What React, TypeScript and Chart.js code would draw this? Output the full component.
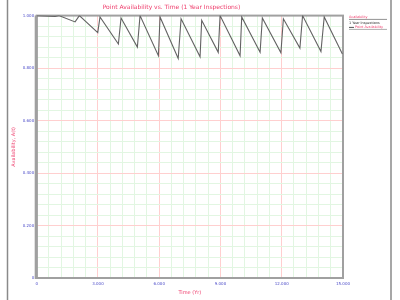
import React, { useEffect, useRef } from "react";
import { Chart, registerables } from "chart.js";
Chart.register(...registerables);

// Point availability readings (time in years, availability A(t))
const timeYears = [
  0, 0.9, 1.08, 1.88, 2.09, 2.99, 3.1, 4.0, 4.13, 4.93, 5.06, 5.96, 6.04, 6.93, 7.07,
  8.0, 8.08, 8.89, 8.98, 9.96, 10.04, 10.94, 11.05, 11.96, 12.08, 12.89, 13.02, 13.92,
  14.08, 14.97,
];
const availability = [
  1.0, 0.997, 1.0, 0.976, 1.0, 0.935, 0.995, 0.892, 0.991, 0.88, 1.0, 0.847, 0.995, 0.837,
  0.988, 0.843, 0.982, 0.86, 1.0, 0.847, 0.995, 0.86, 0.991, 0.858, 0.988, 0.876, 1.0,
  0.863, 0.995, 0.854,
];
const xMajorTicks = [0, 3, 6, 9, 12, 15];
const yMajorTicks = [0, 0.2, 0.4, 0.6, 0.8, 1.0];

const titleText = "Point Availability vs. Time (1 Year Inspections)";
const xTitle = "Time (Yr)";
const yTitle = "Availability, A(t)";
const legendHeader = "Availability";
const legendGroup = "1 Year Inspections";
const seriesLabel = "Point Availability";

const RED = "#ee3b6a";
const BLUE = "#4a4ac8";
const FONT = "'DejaVu Sans', Verdana, sans-serif";

const isMajor = (v: number, list: number[]) => list.some((m) => Math.abs(m - v) < 1e-6);

export default function App() {
  const ref = useRef<HTMLCanvasElement | null>(null);
  useEffect(() => {
    document.body.style.margin = "0";
    const canvas = ref.current;
    if (!canvas) return;

    const decor = {
      id: "decor",
      beforeDraw(chart: any) {
        const ctx = chart.ctx;
        ctx.save();
        ctx.fillStyle = "#ffffff";
        ctx.fillRect(0, 0, chart.width, chart.height);
        ctx.strokeStyle = "#8a8a8a";
        ctx.lineWidth = 1.5;
        ctx.beginPath();
        ctx.moveTo(7.5, 0);
        ctx.lineTo(7.5, chart.height);
        ctx.moveTo(391, 0);
        ctx.lineTo(391, chart.height);
        ctx.stroke();
        ctx.restore();
      },
      beforeDatasetsDraw(chart: any) {
        const { left, right, top, bottom } = chart.chartArea;
        const ctx = chart.ctx;
        ctx.save();
        ctx.strokeStyle = "#a0a0a0";
        ctx.lineWidth = 2;
        ctx.strokeRect(left, top, right - left, bottom - top);
        ctx.lineWidth = 3;
        ctx.beginPath();
        ctx.moveTo(left - 0.5, top);
        ctx.lineTo(left - 0.5, bottom + 1);
        ctx.stroke();
        ctx.restore();
      },
      afterDraw(chart: any) {
        const ctx = chart.ctx;
        const { right, top } = chart.chartArea;
        const x0 = right + 6;
        ctx.save();
        ctx.textBaseline = "middle";
        ctx.font = `3.4px ${FONT}`;
        ctx.fillStyle = RED;
        ctx.fillText(legendHeader, x0, top + 1.8);
        ctx.strokeStyle = "#777";
        ctx.lineWidth = 0.8;
        ctx.beginPath();
        ctx.moveTo(x0, top + 3.8);
        ctx.lineTo(x0 + 38, top + 3.8);
        ctx.stroke();
        ctx.fillStyle = "#222";
        ctx.fillText(legendGroup, x0, top + 7.8);
        ctx.strokeStyle = "#555";
        ctx.lineWidth = 1;
        ctx.beginPath();
        ctx.moveTo(x0, top + 11.8);
        ctx.lineTo(x0 + 5, top + 11.8);
        ctx.stroke();
        ctx.fillStyle = RED;
        ctx.fillText(seriesLabel, x0 + 6, top + 11.8);
        ctx.strokeStyle = "#999";
        ctx.lineWidth = 0.8;
        ctx.beginPath();
        ctx.moveTo(x0, top + 13.8);
        ctx.lineTo(x0 + 38, top + 13.8);
        ctx.stroke();
        ctx.restore();
      },
    };

    const chart = new Chart(canvas, {
      type: "line",
      data: {
        datasets: [
          {
            label: seriesLabel,
            data: timeYears.map((t, i) => ({ x: t, y: availability[i] })),
            borderColor: "#636363",
            borderWidth: 1.1,
            pointRadius: 0,
            tension: 0,
            fill: false,
          },
        ],
      },
      options: {
        animation: false,
        responsive: false,
        devicePixelRatio: 1,
        layout: { padding: { left: 0, right: 57, top: 0, bottom: 0 } },
        plugins: {
          legend: { display: false },
          tooltip: { enabled: false },
          title: {
            display: true,
            text: titleText,
            color: RED,
            font: { family: FONT, size: 6, weight: "normal" },
            padding: { top: 4.2, bottom: 4.2 },
          },
        },
        scales: {
          x: {
            type: "linear",
            min: 0,
            max: 15,
            border: { display: false },
            grid: {
              drawTicks: false,
              color: (c: any) => (isMajor(c.tick.value, xMajorTicks) ? "#ffcfcf" : "#e2f6e2"),
              lineWidth: 1,
            },
            ticks: {
              stepSize: 0.6,
              autoSkip: false,
              maxRotation: 0,
              padding: 3.5,
              color: BLUE,
              font: { family: FONT, size: 4 },
              callback: (v: any) => {
                const n = Number(v);
                if (!isMajor(n, xMajorTicks)) return "";
                return n === 0 ? "0" : n.toFixed(3);
              },
            },
            title: {
              display: true,
              text: xTitle,
              color: RED,
              font: { family: FONT, size: 5 },
              padding: { top: 0, bottom: 4 },
            },
            afterFit: (s: any) => {
              s.height = 22;
            },
          },
          y: {
            type: "linear",
            min: 0,
            max: 1,
            border: { display: false },
            grid: {
              drawTicks: false,
              color: (c: any) => (isMajor(c.tick.value, yMajorTicks) ? "#ffcfcf" : "#e2f6e2"),
              lineWidth: 1,
            },
            ticks: {
              stepSize: 0.04,
              autoSkip: false,
              padding: 2.5,
              color: BLUE,
              font: { family: FONT, size: 4 },
              callback: (v: any) => {
                const n = Number(v);
                if (!isMajor(n, yMajorTicks)) return "";
                return n === 0 ? "0" : n.toFixed(3);
              },
            },
            title: {
              display: true,
              text: yTitle,
              color: RED,
              font: { family: FONT, size: 5 },
              padding: { top: 11, bottom: 0 },
            },
            afterFit: (s: any) => {
              s.width = 36.7;
            },
          },
        },
      },
      plugins: [decor],
    } as any);
    return () => chart.destroy();
  }, []);

  return (
    <div style={{ position: "fixed", left: 0, top: 0, width: 400, height: 300 }}>
      <canvas ref={ref} width={400} height={300} style={{ width: 400, height: 300 }} />
    </div>
  );
}
